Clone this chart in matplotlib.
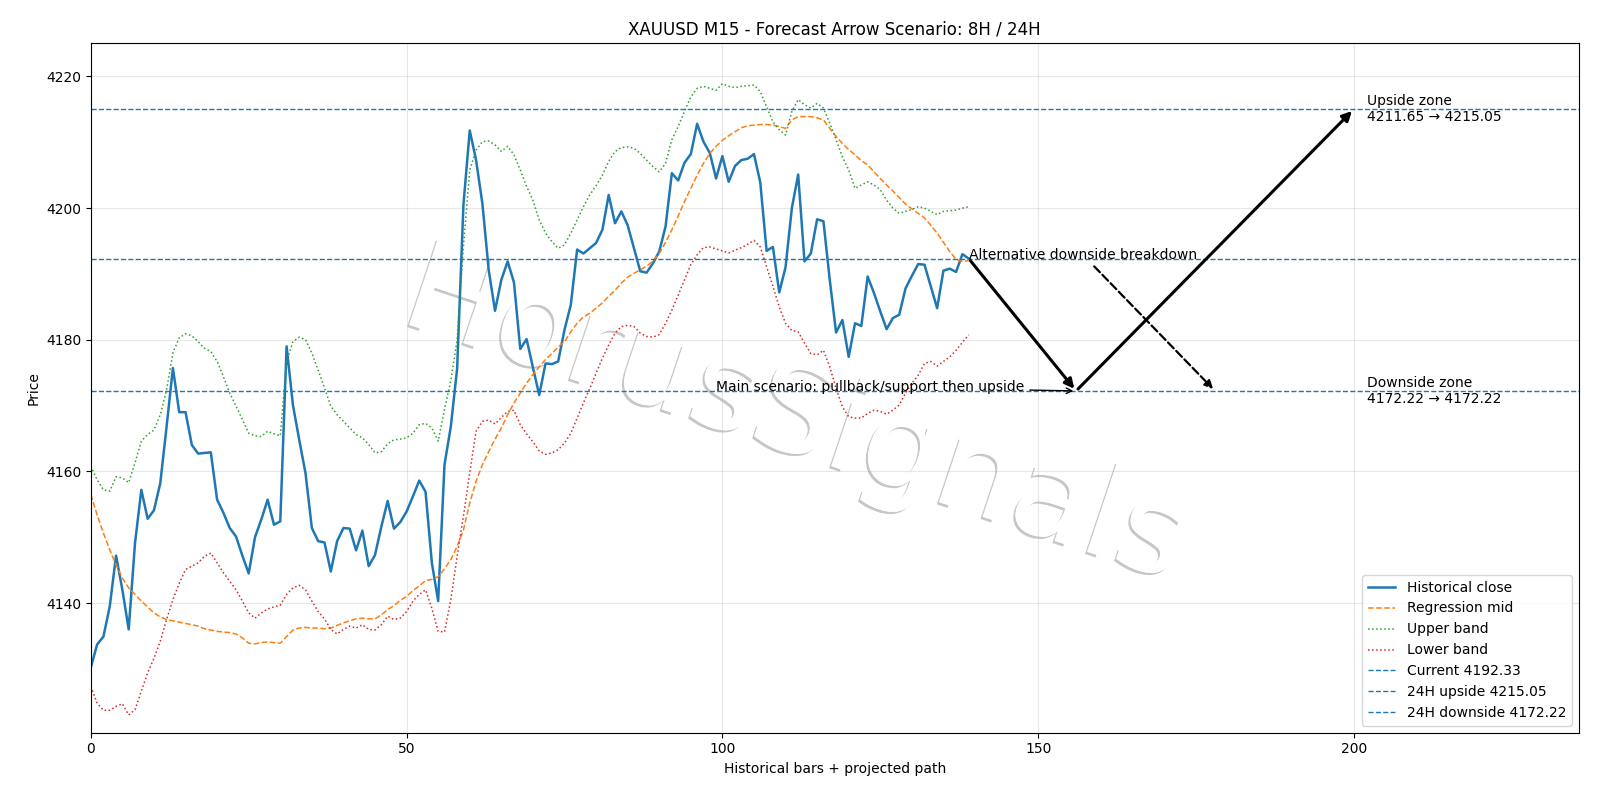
import matplotlib
matplotlib.use("Agg")
import matplotlib.pyplot as plt
import matplotlib.patheffects as pe
import numpy as np

close = [4130.2, 4133.7, 4134.9, 4139.5, 4147.2, 4142.0, 4136.0, 4149.1, 4157.2, 4152.8,
         4154.1, 4158.2, 4166.8, 4175.7, 4169.0, 4169.0, 4164.0, 4162.7, 4162.8, 4162.9,
         4155.7, 4153.7, 4151.4, 4150.1, 4147.2, 4144.5, 4150.0, 4152.7, 4155.7, 4151.9,
         4152.4, 4179.0, 4170.1, 4164.8, 4159.7, 4151.4, 4149.4, 4149.2, 4144.8, 4149.4,
         4151.4, 4151.3, 4148.0, 4151.0, 4145.6, 4147.3, 4151.6, 4155.5, 4151.3, 4152.3,
         4153.9, 4156.2, 4158.6, 4156.9, 4146.1, 4140.3, 4161.0, 4166.8, 4175.6, 4200.5,
         4211.8, 4207.3, 4200.7, 4190.6, 4184.4, 4189.1, 4191.9, 4188.7, 4178.6, 4180.1,
         4175.8, 4171.6, 4176.4, 4176.3, 4176.7, 4181.5, 4185.3, 4193.7, 4193.1, 4193.9,
         4194.7, 4196.7, 4202.0, 4197.7, 4199.5, 4197.4, 4193.9, 4190.4, 4190.2, 4191.6,
         4193.4, 4197.2, 4205.3, 4204.2, 4206.9, 4208.2, 4212.8, 4210.1, 4208.4, 4204.5,
         4207.9, 4204.0, 4206.4, 4207.3, 4207.5, 4208.2, 4203.9, 4193.5, 4194.1, 4187.2,
         4191.0, 4200.0, 4205.1, 4191.9, 4193.1, 4198.3, 4198.0, 4189.1, 4181.1, 4183.0,
         4177.4, 4182.5, 4182.1, 4189.6, 4187.1, 4184.3, 4181.6, 4183.3, 4183.8, 4187.8,
         4189.7, 4191.5, 4191.4, 4188.1, 4184.8, 4190.5, 4190.8, 4190.3, 4193.0, 4192.33]

mid = [4156.5, 4153.4, 4150.6, 4148.1, 4145.8, 4143.8, 4142.3, 4141.3, 4140.3, 4139.4,
       4138.5, 4137.9, 4137.5, 4137.3, 4137.1, 4136.9, 4136.7, 4136.5, 4136.1, 4135.9,
       4135.7, 4135.6, 4135.5, 4135.3, 4134.7, 4133.9, 4133.8, 4134.0, 4134.1, 4134.0,
       4133.9, 4134.9, 4135.9, 4136.2, 4136.3, 4136.2, 4136.2, 4136.1, 4136.2, 4136.6,
       4137.0, 4137.3, 4137.6, 4137.7, 4137.6, 4137.6, 4138.2, 4139.0, 4139.6, 4140.4,
       4141.0, 4141.9, 4142.6, 4143.4, 4143.6, 4144.0, 4145.2, 4146.6, 4148.6, 4151.1,
       4155.2, 4158.5, 4161.0, 4163.0, 4164.9, 4166.6, 4168.6, 4170.4, 4171.9, 4173.4,
       4174.7, 4175.9, 4177.0, 4177.9, 4178.9, 4179.7, 4181.2, 4182.5, 4183.5, 4184.0,
       4184.8, 4185.6, 4186.6, 4187.5, 4188.6, 4189.5, 4190.1, 4190.6, 4191.2, 4191.9,
       4193.1, 4194.8, 4196.7, 4198.8, 4201.0, 4203.0, 4205.0, 4206.8, 4208.3, 4209.4,
       4210.3, 4211.0, 4211.6, 4212.2, 4212.5, 4212.6, 4212.7, 4212.7, 4212.6, 4212.4,
       4212.1, 4213.4, 4213.9, 4213.9, 4213.9, 4213.7, 4213.4, 4212.1, 4210.9, 4209.8,
       4208.9, 4208.1, 4207.2, 4206.6, 4205.5, 4204.5, 4203.5, 4202.6, 4201.6, 4200.6,
       4199.9, 4199.2, 4198.5, 4197.4, 4196.2, 4194.8, 4193.4, 4192.2, 4191.9, 4192.0]

upper = [4160.8, 4158.7, 4157.2, 4157.0, 4159.2, 4159.0, 4158.3, 4161.3, 4164.6, 4165.6,
         4166.3, 4168.6, 4172.4, 4178.0, 4180.3, 4180.9, 4180.6, 4179.7, 4178.7, 4178.2,
         4176.7, 4174.4, 4171.9, 4169.9, 4167.9, 4165.8, 4165.4, 4165.3, 4166.1, 4165.7,
         4165.4, 4176.7, 4179.7, 4180.4, 4180.0, 4178.0, 4175.4, 4172.7, 4169.9, 4168.6,
         4167.6, 4166.6, 4165.6, 4165.1, 4164.1, 4162.8, 4163.0, 4164.2, 4164.8, 4164.9,
         4165.1, 4165.8, 4167.1, 4167.3, 4166.6, 4164.6, 4169.4, 4173.8, 4180.0, 4194.2,
         4205.8, 4208.8, 4210.1, 4210.2, 4209.6, 4208.6, 4209.4, 4208.1, 4205.8, 4203.3,
         4201.2, 4198.2, 4196.2, 4194.9, 4193.9, 4194.4, 4196.2, 4198.2, 4200.2, 4202.0,
         4203.4, 4205.0, 4207.1, 4208.6, 4209.2, 4209.3, 4209.1, 4208.3, 4207.3, 4206.3,
         4205.5, 4206.8, 4210.4, 4212.4, 4214.7, 4216.9, 4218.2, 4218.5, 4218.2, 4217.9,
         4218.9, 4218.5, 4218.3, 4218.5, 4218.6, 4218.7, 4217.7, 4215.4, 4213.1, 4211.9,
         4211.1, 4214.7, 4216.5, 4215.7, 4215.2, 4215.9, 4215.2, 4212.9, 4210.4, 4207.8,
         4205.8, 4203.0, 4203.5, 4204.0, 4203.5, 4202.8, 4201.2, 4200.0, 4199.2, 4199.5,
         4199.8, 4200.2, 4200.0, 4199.5, 4199.0, 4199.5, 4199.6, 4199.7, 4200.0, 4200.2]

lower = [4127.3, 4124.8, 4123.7, 4123.7, 4124.3, 4124.7, 4123.0, 4123.8, 4126.6, 4129.4,
         4131.6, 4134.2, 4137.5, 4140.5, 4143.0, 4145.1, 4145.6, 4146.1, 4147.1, 4147.6,
         4146.1, 4144.6, 4143.3, 4142.0, 4140.3, 4138.5, 4137.7, 4138.5, 4139.1, 4139.4,
         4139.7, 4141.3, 4142.3, 4142.7, 4142.0, 4140.3, 4138.7, 4137.6, 4136.0, 4135.3,
         4136.0, 4136.5, 4136.2, 4136.7, 4136.0, 4135.9, 4136.7, 4138.0, 4137.5, 4137.7,
         4138.7, 4140.3, 4141.3, 4142.0, 4139.2, 4135.7, 4135.6, 4140.5, 4147.1, 4153.2,
         4159.8, 4166.1, 4167.6, 4167.8, 4167.2, 4168.2, 4169.1, 4169.3, 4167.1, 4165.7,
         4164.5, 4163.1, 4162.6, 4162.8, 4163.3, 4164.3, 4165.8, 4168.1, 4170.4, 4172.6,
         4174.9, 4177.2, 4179.2, 4181.0, 4182.0, 4182.2, 4182.0, 4181.0, 4180.5, 4180.4,
         4180.8, 4182.5, 4184.5, 4186.8, 4189.1, 4191.4, 4192.9, 4194.0, 4194.1, 4193.8,
         4193.5, 4193.2, 4193.6, 4194.0, 4194.5, 4195.1, 4194.1, 4191.1, 4188.1, 4185.0,
         4182.5, 4181.4, 4181.2, 4179.5, 4177.9, 4177.7, 4178.4, 4175.9, 4172.6, 4169.8,
         4168.3, 4168.1, 4168.1, 4168.8, 4169.3, 4169.1, 4168.7, 4169.3, 4170.1, 4171.9,
         4173.4, 4174.6, 4176.4, 4176.7, 4176.0, 4176.7, 4177.4, 4178.4, 4179.6, 4180.75]

current_price = 4192.33
up_start, up_target = 4211.65, 4215.05
down_start, down_target = 4172.22, 4172.22
pivot_x = 156
up_x = 200
alt_x = 178
zone_x = 202
main_text_x = 99

x = np.arange(len(close))
last_x = x[-1]

fig = plt.figure(figsize=(16, 8), dpi=100)
ax = fig.add_axes([0.05675, 0.0841, 0.9866 - 0.05675, 0.9464 - 0.0841])

ax.plot(x, close, color="C0", lw=1.8, label="Historical close", zorder=2)
ax.plot(x, mid, color="C1", lw=1.1, ls="--", label="Regression mid", zorder=2)
ax.plot(x, upper, color="C2", lw=1.1, ls=":", label="Upper band", zorder=2)
ax.plot(x, lower, color="C3", lw=1.1, ls=":", label="Lower band", zorder=2)
ax.axhline(current_price, color="C0", ls="--", lw=1, label=f"Current {current_price:.2f}")
ax.axhline(up_target, color="C0", ls="--", lw=1, label=f"24H upside {up_target:.2f}")
ax.axhline(down_target, color="C0", ls="--", lw=1, label=f"24H downside {down_target:.2f}")

# main scenario arrows
ax.annotate("", xy=(pivot_x, down_target), xytext=(last_x, current_price),
            arrowprops=dict(arrowstyle="-|>", lw=2.2, color="black", mutation_scale=14))
ax.annotate("", xy=(up_x, up_target), xytext=(pivot_x, down_target),
            arrowprops=dict(arrowstyle="-|>", lw=2.2, color="black", mutation_scale=14))
ax.annotate("Main scenario: pullback/support then upside", xy=(pivot_x, down_target),
            xytext=(main_text_x, down_target), fontsize=10,
            arrowprops=dict(arrowstyle="->", lw=1, color="black"))
ax.annotate("Alternative downside breakdown", xy=(alt_x, down_target),
            xytext=(last_x, current_price), fontsize=10,
            arrowprops=dict(arrowstyle="-|>", lw=1.6, ls="--", color="black", mutation_scale=12))

ax.text(zone_x, up_target, f"Upside zone\n{up_start:.2f} \u2192 {up_target:.2f}",
        va="center", ha="left", fontsize=10)
ax.text(zone_x, down_target, f"Downside zone\n{down_start:.2f} \u2192 {down_target:.2f}",
        va="center", ha="left", fontsize=10)

ax.text(0.497, 0.478, "HorusSignals", transform=fig.transFigure, fontsize=90,
        color="white", rotation=-18.5, ha="center", va="center", zorder=1,
        path_effects=[pe.withSimplePatchShadow(offset=(-1.6, -1.6), shadow_rgbFace="black", alpha=0.22),
                      pe.Normal()])

ax.set_xlim(0, 235.56)
ax.set_ylim(4120.3, 4225.1)
ax.grid(True, alpha=0.3)
ax.set_title("XAUUSD M15 - Forecast Arrow Scenario: 8H / 24H", fontsize=12)
ax.set_xlabel("Historical bars + projected path")
ax.set_ylabel("Price")
ax.legend(loc="lower right")

fig.savefig("out.png", dpi=100)
